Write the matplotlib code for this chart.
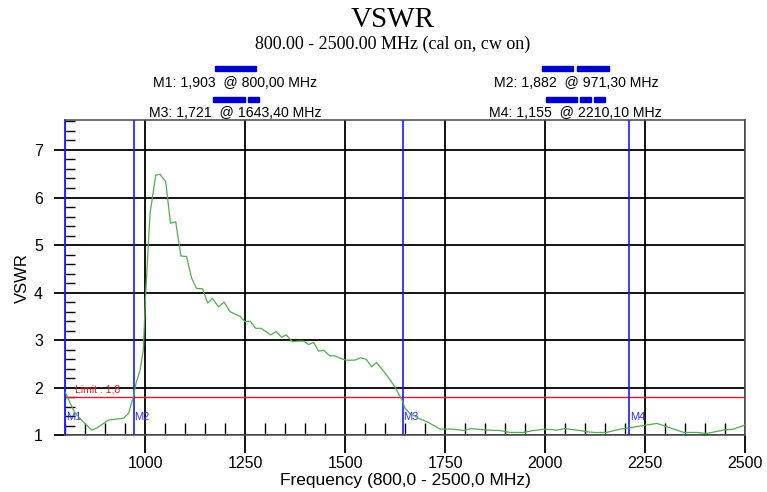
import matplotlib
matplotlib.use("Agg")
import matplotlib.pyplot as plt
from matplotlib.patches import Rectangle
from matplotlib.ticker import MultipleLocator

freq = [800, 812, 824, 845, 866, 878, 908, 946, 958, 970, 977, 987, 995, 1001,
        1012, 1026, 1037, 1051, 1063, 1076, 1089, 1103, 1116, 1128, 1143, 1156,
        1168, 1183, 1197, 1212, 1237, 1249, 1262, 1276, 1289, 1314, 1327, 1341,
        1352, 1368, 1383, 1396, 1408, 1421, 1433, 1446, 1461, 1474, 1487, 1502,
        1524, 1538, 1552, 1566, 1578, 1603, 1624, 1643, 1649, 1662, 1683, 1708,
        1737, 1770, 1796, 1816, 1853, 1887, 1912, 1945, 1970, 2000, 2029, 2049,
        2087, 2108, 2124, 2153, 2187, 2212, 2241, 2279, 2304, 2346, 2379, 2404,
        2446, 2471, 2500]
vswr = [1.90, 1.68, 1.47, 1.28, 1.11, 1.15, 1.32, 1.36, 1.46, 1.80, 2.10, 2.37,
        2.79, 3.99, 5.67, 6.47, 6.49, 6.33, 5.46, 5.49, 4.77, 4.76, 4.30, 4.09,
        4.08, 3.78, 3.88, 3.70, 3.80, 3.60, 3.50, 3.39, 3.40, 3.25, 3.25, 3.11,
        3.18, 3.06, 3.11, 2.97, 2.98, 2.98, 2.91, 2.95, 2.77, 2.79, 2.67, 2.67,
        2.62, 2.58, 2.58, 2.63, 2.60, 2.44, 2.53, 2.27, 2.02, 1.72, 1.57, 1.46,
        1.36, 1.27, 1.13, 1.13, 1.10, 1.14, 1.11, 1.10, 1.06, 1.06, 1.10, 1.13,
        1.11, 1.14, 1.10, 1.07, 1.06, 1.06, 1.13, 1.16, 1.20, 1.25, 1.18, 1.06,
        1.06, 1.04, 1.11, 1.13, 1.22]

marker_names = ["M1", "M2", "M3", "M4"]
marker_freqs = [800.00, 971.30, 1643.40, 2210.10]
marker_vals = [1.903, 1.882, 1.721, 1.155]
limit_value = 1.8
x_ticks = [1000, 1250, 1500, 1750, 2000, 2250, 2500]
y_ticks = [1, 2, 3, 4, 5, 6, 7]

sans = ["Liberation Sans", "DejaVu Sans"]
serif = ["Liberation Serif", "DejaVu Serif"]

fig = plt.figure(figsize=(7.67, 4.92), dpi=100)
ax = fig.add_axes([65.3 / 767, 1 - 435.3 / 492, 680 / 767, 315.3 / 492])
ax.set_xlim(800, 2500)
ax.set_ylim(1, 7.63)

ax.set_xticks(x_ticks)
ax.set_yticks(y_ticks)
ax.xaxis.set_minor_locator(MultipleLocator(50))
ax.yaxis.set_minor_locator(MultipleLocator(0.2))
ax.grid(True, which="major", color="black", linewidth=1.3)
ax.tick_params(axis="x", which="major", direction="out", length=13, width=1.3,
               labelsize=11.5, pad=2)
ax.tick_params(axis="y", which="major", direction="out", length=8, width=1.3,
               labelsize=11.5, pad=8)
ax.tick_params(axis="x", which="minor", direction="in", length=9, width=1.0)
ax.tick_params(axis="y", which="minor", direction="in", length=7, width=1.0)
for lab in ax.get_xticklabels() + ax.get_yticklabels():
    lab.set_fontfamily(sans)
for s in ["top", "right", "bottom"]:
    ax.spines[s].set_color("#555555")
    ax.spines[s].set_linewidth(1.2)
ax.spines["left"].set_color("#1a1aff")
ax.spines["left"].set_linewidth(1.3)

# limit line
ax.axhline(limit_value, color="#e02020", linewidth=1.0, zorder=3)
ax.text(824, limit_value + 0.05, "Limit : " + str(limit_value).replace(".", ","),
        color="#e02020", fontsize=7.5, family=sans, va="bottom", ha="left")

# markers
for name, f in zip(marker_names, marker_freqs):
    ax.axvline(f, color="#1a1aff", linewidth=1.2, zorder=4)
    ax.text(f + 1, 1.27, name, color="#3030ff", fontsize=8, family=sans,
            va="bottom", ha="left", zorder=5)

ax.plot(freq, vswr, color="#52ad52", linewidth=0.9, zorder=5)

ax.set_xlabel("Frequency (800,0 - 2500,0 MHz)", fontsize=12.5, family=sans,
              labelpad=1)
ax.set_ylabel("VSWR", fontsize=12, family=sans, labelpad=3)

fig.text(393 / 767, 1 - 20 / 492, "VSWR", ha="center", va="center",
         fontsize=21, family=serif)
fig.text(393 / 767, 1 - 44 / 492, "800.00 - 2500.00 MHz (cal on, cw on)",
         ha="center", va="center", fontsize=13, family=serif)

# marker readouts
def readout(name, f, v):
    fs = "{:.2f}".format(f).replace(".", ",")
    vs = "{:.3f}".format(v).replace(".", ",")
    return f"{name}: {vs}  @ {fs} MHz"

pos = {"M1": (235, 83), "M2": (576, 83), "M3": (235, 113), "M4": (575, 113)}
for name, f, v in zip(marker_names, marker_freqs, marker_vals):
    x, y = pos[name]
    fig.text(x / 767, 1 - y / 492, readout(name, f, v), ha="center", va="center",
             fontsize=10.2, family=sans)

bars = [(215, 66, 41), (213, 97, 32), (248, 97, 11),
        (542, 66, 31), (577, 66, 32),
        (546, 97, 31), (580, 97, 11), (594, 97, 11)]
for x, y, w in bars:
    fig.patches.append(Rectangle((x / 767, 1 - (y + 5) / 492), w / 767, 5 / 492,
                                 transform=fig.transFigure, color="#0000cc"))

fig.savefig("out.png", dpi=100)
